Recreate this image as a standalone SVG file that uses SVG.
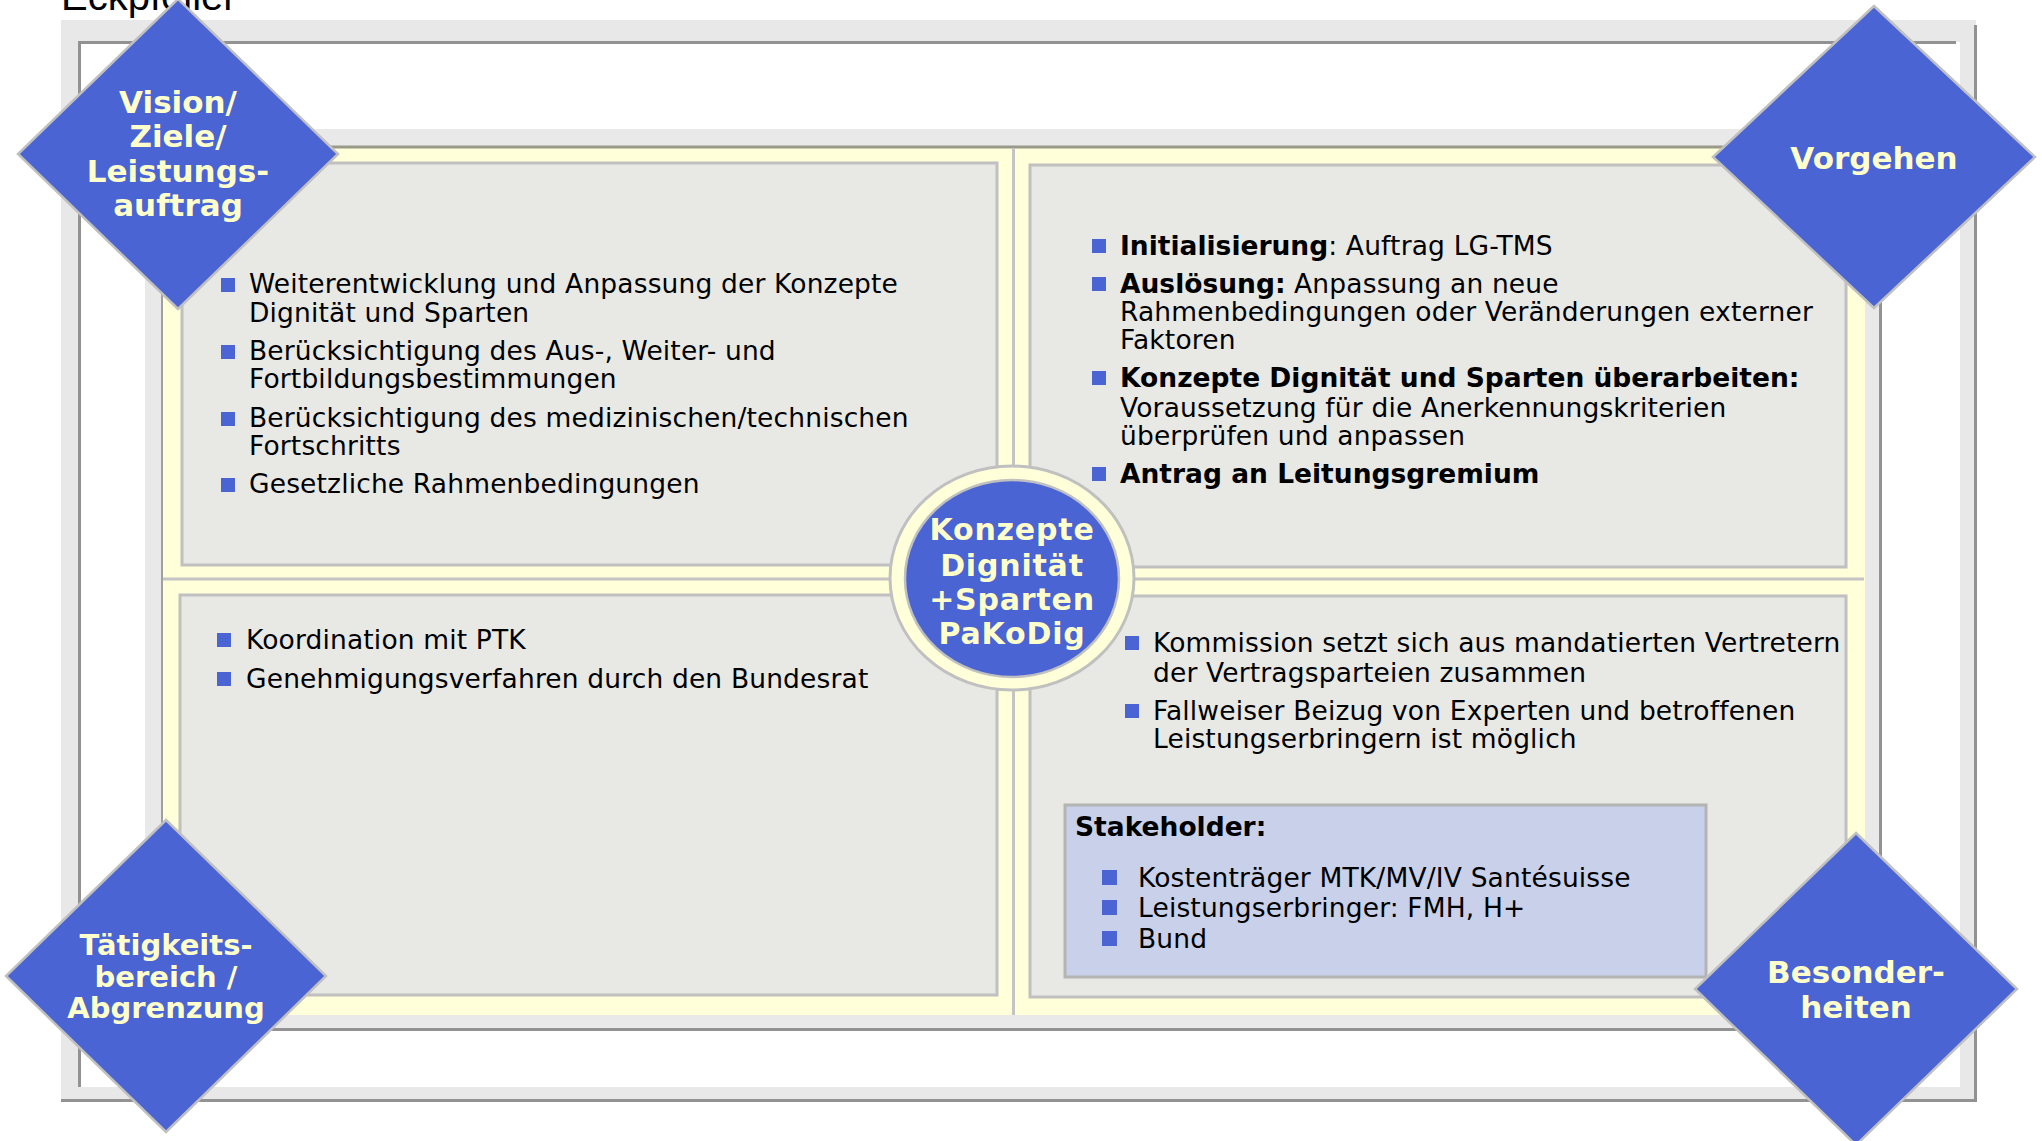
<svg xmlns="http://www.w3.org/2000/svg" width="2042" height="1141" viewBox="0 0 2042 1141">
<style>
.body{font-family:"DejaVu Sans","Verdana",sans-serif;font-size:26.5px;fill:#000;letter-spacing:0.15px}
.b{font-weight:bold;letter-spacing:0}
.dtxt{font-family:"DejaVu Sans","Verdana",sans-serif;font-weight:bold;fill:#ffffcc;text-anchor:middle}
.dia{fill:#4a64d4;stroke:#c0c0c0;stroke-width:2.5}
.panel{fill:#e8e9e5;stroke:#c0c0c0;stroke-width:3}
.bul{fill:#4a64d4}
.dark{stroke:#929292;stroke-width:3}
</style>
<rect width="2042" height="1141" fill="#ffffff"/>
<text x="61" y="10" font-family="Liberation Sans, Arial, sans-serif" font-size="40" fill="#000">Eckpfeiler</text>
<g id="frame">
  <rect x="61" y="20" width="1915" height="1081" fill="#e8e8e8"/>
  <line class="dark" x1="1975.5" y1="25" x2="1975.5" y2="1102"/>
  <line class="dark" x1="61" y1="1100.5" x2="1977" y2="1100.5"/>
  <rect x="80" y="42" width="1880" height="1045" fill="#ffffff"/>
  <line class="dark" x1="79.5" y1="42" x2="79.5" y2="1087"/>
  <line class="dark" x1="78" y1="42.5" x2="1956" y2="42.5"/>
  <rect x="145" y="129" width="1736" height="901" fill="#e9e9e9"/>
  <line class="dark" x1="1880.5" y1="132" x2="1880.5" y2="1031"/>
  <line class="dark" x1="145" y1="1029.5" x2="1882" y2="1029.5"/>
  <rect x="162" y="146" width="1703" height="869" fill="#ffffd9"/>
  <line stroke="#9a9a8a" stroke-width="3" x1="161" y1="147" x2="1865" y2="147"/>
  <line stroke="#a0a0a0" stroke-width="2" x1="162" y1="146" x2="162" y2="1015"/>
  <line stroke="#c4c4c4" stroke-width="3" x1="1013.5" y1="148" x2="1013.5" y2="1015"/>
  <line stroke="#c4c4c4" stroke-width="3" x1="163" y1="579" x2="1864" y2="579"/>
</g>
<g id="panel-ul">
  <rect class="panel" x="182" y="163" width="815" height="402"/>
  <rect class="bul" x="221" y="278" width="14" height="14"/>
  <text class="body" x="249" y="293">Weiterentwicklung und Anpassung der Konzepte</text>
  <text class="body" x="249" y="322">Dignität und Sparten</text>
  <rect class="bul" x="221" y="345" width="14" height="14"/>
  <text class="body" x="249" y="360">Berücksichtigung des Aus-, Weiter- und</text>
  <text class="body" x="249" y="388">Fortbildungsbestimmungen</text>
  <rect class="bul" x="221" y="412" width="14" height="14"/>
  <text class="body" x="249" y="427">Berücksichtigung des medizinischen/technischen</text>
  <text class="body" x="249" y="455">Fortschritts</text>
  <rect class="bul" x="221" y="478" width="14" height="14"/>
  <text class="body" x="249" y="493">Gesetzliche Rahmenbedingungen</text>
</g>
<g id="panel-ur">
  <rect class="panel" x="1030" y="165" width="816" height="402"/>
  <rect class="bul" x="1092" y="239" width="14" height="14"/>
  <text class="body" x="1120" y="255"><tspan class="b">Initialisierung</tspan>: Auftrag LG-TMS</text>
  <rect class="bul" x="1092" y="277" width="14" height="14"/>
  <text class="body" x="1120" y="293"><tspan class="b">Auslösung:</tspan> Anpassung an neue</text>
  <text class="body" x="1120" y="321">Rahmenbedingungen oder Veränderungen externer</text>
  <text class="body" x="1120" y="349">Faktoren</text>
  <rect class="bul" x="1092" y="371" width="14" height="14"/>
  <text class="body b" x="1120" y="387">Konzepte Dignität und Sparten überarbeiten:</text>
  <text class="body" x="1120" y="417">Voraussetzung für die Anerkennungskriterien</text>
  <text class="body" x="1120" y="445">überprüfen und anpassen</text>
  <rect class="bul" x="1092" y="467" width="14" height="14"/>
  <text class="body b" x="1120" y="483">Antrag an Leitungsgremium</text>
</g>
<g id="panel-ll">
  <rect class="panel" x="180" y="595" width="817" height="400"/>
  <rect class="bul" x="217" y="633" width="14" height="14"/>
  <text class="body" x="246" y="649">Koordination mit PTK</text>
  <rect class="bul" x="217" y="672" width="14" height="14"/>
  <text class="body" x="246" y="688">Genehmigungsverfahren durch den Bundesrat</text>
</g>
<g id="panel-lr">
  <rect class="panel" x="1030" y="596" width="816" height="401"/>
  <rect class="bul" x="1125" y="636" width="14" height="14"/>
  <text class="body" x="1153" y="652">Kommission setzt sich aus mandatierten Vertretern</text>
  <text class="body" x="1153" y="682">der Vertragsparteien zusammen</text>
  <rect class="bul" x="1125" y="704" width="14" height="14"/>
  <text class="body" x="1153" y="720">Fallweiser Beizug von Experten und betroffenen</text>
  <text class="body" x="1153" y="748">Leistungserbringern ist möglich</text>
</g>
<g id="stakeholder">
  <rect x="1065" y="805" width="641" height="172" fill="#c9d0e9" stroke="#b4b4b4" stroke-width="3"/>
  <text class="body b" x="1075" y="836">Stakeholder:</text>
  <rect class="bul" x="1102" y="870" width="15" height="15"/>
  <text class="body" x="1138" y="887">Kostenträger MTK/MV/IV Santésuisse</text>
  <rect class="bul" x="1102" y="900" width="15" height="15"/>
  <text class="body" x="1138" y="917">Leistungserbringer: FMH, H+</text>
  <rect class="bul" x="1102" y="931" width="15" height="15"/>
  <text class="body" x="1138" y="948">Bund</text>
</g>
<g id="center">
  <ellipse cx="1012" cy="578" rx="122" ry="112" fill="#ffffd9" stroke="#c0c0c0" stroke-width="3"/>
  <ellipse cx="1012" cy="578.5" rx="107" ry="98.5" fill="#4a64d4" stroke="#c0c0c0" stroke-width="2.5"/>
  <text class="dtxt" font-size="30" letter-spacing="0.8" x="1012" y="540">Konzepte</text>
  <text class="dtxt" font-size="30" letter-spacing="0.8" x="1012" y="576">Dignität</text>
  <text class="dtxt" font-size="30" letter-spacing="0.8" x="1012" y="610">+Sparten</text>
  <text class="dtxt" font-size="30" letter-spacing="0.8" x="1012" y="644">PaKoDig</text>
</g>
<g id="vision">
  <polygon class="dia" points="178,-1 338,154 178,309 18,154"/>
  <text class="dtxt" font-size="31" x="178" y="113">Vision/</text>
  <text class="dtxt" font-size="31" x="178" y="147">Ziele/</text>
  <text class="dtxt" font-size="31" x="178" y="182">Leistungs-</text>
  <text class="dtxt" font-size="31" x="178" y="216">auftrag</text>
</g>
<g id="vorgehen">
  <polygon class="dia" points="1874,6 2035,157 1874,308 1713,157"/>
  <text class="dtxt" font-size="31" x="1874" y="169">Vorgehen</text>
</g>
<g id="taetigkeit">
  <polygon class="dia" points="166,820 326,976 166,1132 6,976"/>
  <text class="dtxt" font-size="29" x="166" y="955">Tätigkeits-</text>
  <text class="dtxt" font-size="29" x="166" y="987">bereich /</text>
  <text class="dtxt" font-size="29" x="166" y="1018">Abgrenzung</text>
</g>
<g id="besonderheiten">
  <polygon class="dia" points="1856,833 2017,989 1856,1145 1695,989"/>
  <text class="dtxt" font-size="31" x="1856" y="983">Besonder-</text>
  <text class="dtxt" font-size="31" x="1856" y="1018">heiten</text>
</g>
<g id="connectors"/>
</svg>
